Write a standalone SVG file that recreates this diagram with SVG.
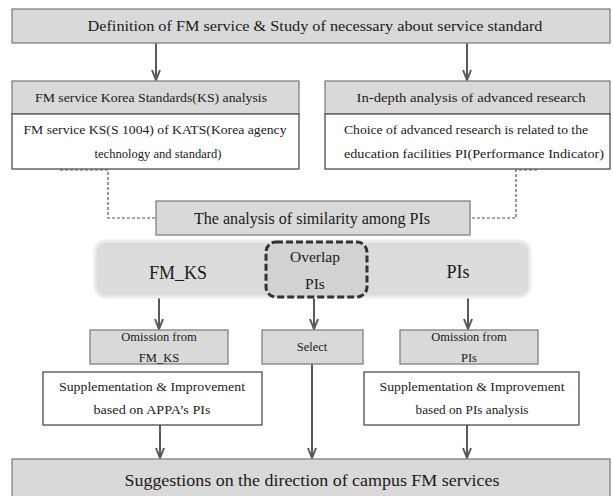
<svg xmlns="http://www.w3.org/2000/svg" width="613" height="496" viewBox="0 0 613 496" font-family="Liberation Serif, DejaVu Serif, serif">
<style>
  .g{fill:#d9d9d9;stroke:#808080;stroke-width:1.3}
  .w{fill:#ffffff;stroke:#4d4d4d;stroke-width:1.3}
  text{fill:#1a1a1a;text-anchor:middle}
  .arr{stroke:#5a5a5a;stroke-width:2;fill:none;marker-end:url(#ah)}
  .dash{stroke:#555;stroke-width:1.2;fill:none;stroke-dasharray:3 2}
</style>
<defs>
  <marker id="ah" viewBox="0 0 12 10" refX="11" refY="5" markerWidth="12" markerHeight="10" markerUnits="userSpaceOnUse" orient="auto">
    <path d="M1,1 L11,5 L1,9" fill="none" stroke="#5a5a5a" stroke-width="2"/>
  </marker>
</defs>
<rect width="613" height="496" fill="#ffffff"/>

<g id="connectors">
  <line class="arr" x1="156" y1="43" x2="156" y2="80"/>
  <line class="arr" x1="467" y1="43" x2="467" y2="80"/>
  <path class="dash" d="M60,170 H108 V218 H156"/>
  <path class="dash" d="M537,170 H516 V218 H470"/>
  <line class="arr" x1="159" y1="298" x2="159" y2="329"/>
  <line class="arr" x1="314" y1="298" x2="314" y2="329"/>
  <line class="arr" x1="468" y1="298" x2="468" y2="329"/>
  <line class="arr" x1="160" y1="425" x2="160" y2="458"/>
  <line class="arr" x1="312" y1="364" x2="312" y2="458"/>
  <line class="arr" x1="467" y1="425" x2="467" y2="458"/>
</g>

<g id="top">
  <rect class="g" x="12" y="9" width="598" height="34"/>
  <text x="315" y="31" font-size="15" textLength="455" lengthAdjust="spacingAndGlyphs">Definition of FM service &amp; Study of necessary about service standard</text>
</g>

<g id="ks">
  <rect class="g" x="12" y="81" width="287" height="33"/>
  <text x="151" y="102" font-size="12.5" textLength="232" lengthAdjust="spacingAndGlyphs">FM service Korea Standards(KS) analysis</text>
  <rect class="w" x="12" y="114" width="287" height="55"/>
  <text x="155" y="134" font-size="12.5" textLength="263" lengthAdjust="spacingAndGlyphs">FM service KS(S 1004) of KATS(Korea agency</text>
  <text x="158" y="158" font-size="12.5" textLength="127" lengthAdjust="spacingAndGlyphs">technology and standard)</text>
</g>

<g id="research">
  <rect class="g" x="325" y="81" width="285" height="33"/>
  <text x="471" y="102" font-size="12.5" textLength="229" lengthAdjust="spacingAndGlyphs">In-depth analysis of advanced research</text>
  <rect class="w" x="325" y="114" width="285" height="55"/>
  <text x="466" y="134" font-size="12.5" textLength="244" lengthAdjust="spacingAndGlyphs">Choice of advanced research is related to the</text>
  <text x="474" y="158" font-size="12.5" textLength="260" lengthAdjust="spacingAndGlyphs">education facilities PI(Performance Indicator)</text>
</g>

<g id="similarity">
  <rect class="g" x="156" y="201" width="314" height="34"/>
  <text x="312" y="224" font-size="16" textLength="236" lengthAdjust="spacingAndGlyphs">The analysis of similarity among PIs</text>
</g>

<g id="sets">
  <rect x="95" y="241" width="435" height="56" rx="11" fill="#dcdcdc" stroke="#ececec" stroke-width="3"/>
  <text x="178" y="279" font-size="18">FM_KS</text>
  <text x="458" y="278" font-size="18">PIs</text>
</g>

<g id="overlap">
  <rect x="266" y="242" width="101" height="55" rx="10" fill="#d2d2d2" stroke="#333" stroke-width="3" stroke-dasharray="7 3"/>
  <text x="315" y="262" font-size="15.5">Overlap</text>
  <text x="315" y="289" font-size="15.5">PIs</text>
</g>

<g id="omit-ks">
  <rect class="g" x="90" y="330" width="138" height="34"/>
  <text x="159" y="341" font-size="12.5">Omission  from</text>
  <text x="159" y="362" font-size="12.5">FM_KS</text>
</g>

<g id="select">
  <rect class="g" x="262" y="330" width="101" height="34"/>
  <text x="312" y="351" font-size="12.5">Select</text>
</g>

<g id="omit-pis">
  <rect class="g" x="400" y="330" width="138" height="34"/>
  <text x="469" y="341" font-size="12.5">Omission  from</text>
  <text x="469" y="362" font-size="12.5">PIs</text>
</g>

<g id="supp-ks">
  <rect class="w" x="43" y="372" width="219" height="53"/>
  <text x="152" y="391" font-size="12" textLength="186" lengthAdjust="spacingAndGlyphs">Supplementation &amp; Improvement</text>
  <text x="152" y="414" font-size="12" textLength="117" lengthAdjust="spacingAndGlyphs">based on APPA’s PIs</text>
</g>

<g id="supp-pis">
  <rect class="w" x="364" y="372" width="215" height="53"/>
  <text x="472" y="391" font-size="12" textLength="185" lengthAdjust="spacingAndGlyphs">Supplementation &amp; Improvement</text>
  <text x="472" y="414" font-size="12" textLength="113" lengthAdjust="spacingAndGlyphs">based on PIs analysis</text>
</g>

<g id="suggestions">
  <rect class="g" x="12" y="459" width="598" height="45"/>
  <text x="312" y="486" font-size="17" textLength="375" lengthAdjust="spacingAndGlyphs">Suggestions on the direction of campus FM services</text>
</g>
</svg>
